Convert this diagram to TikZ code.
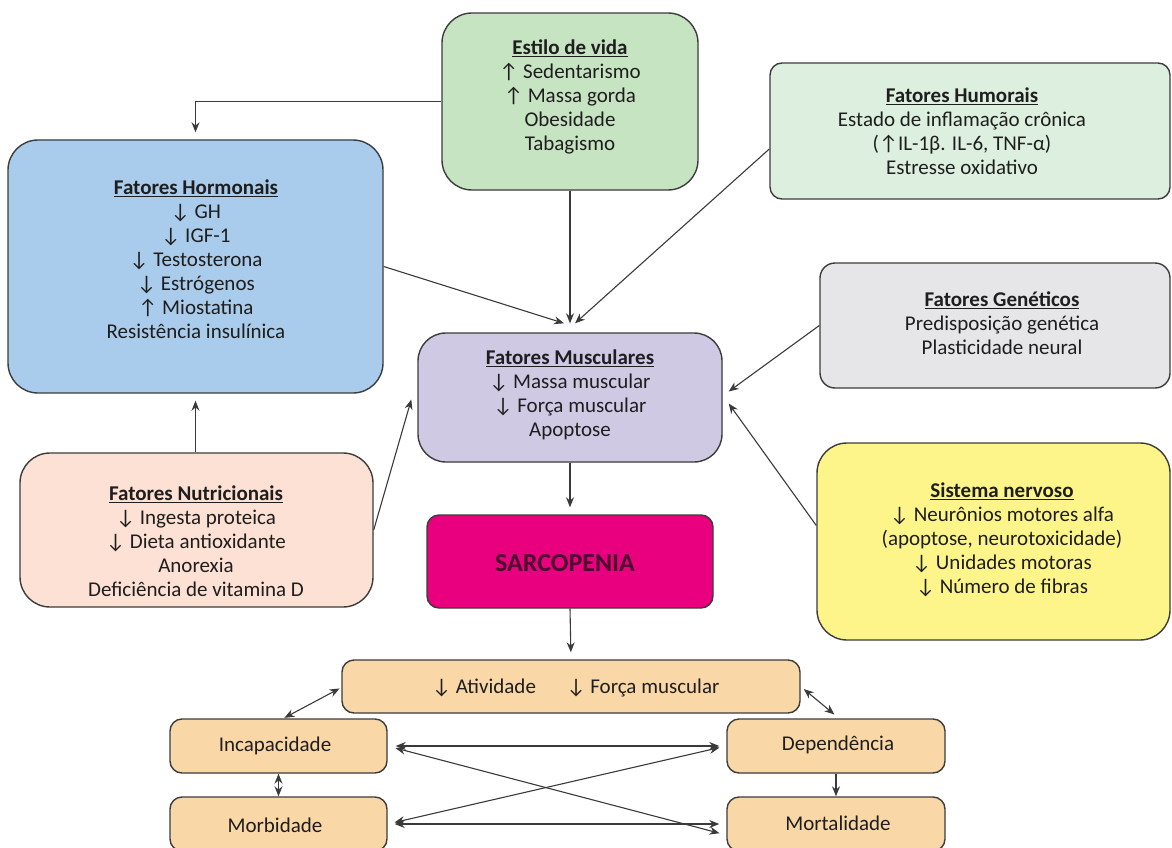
\documentclass[tikz,border=0pt]{standalone}
\usepackage{fontspec}
\setmainfont{Carlito}
\usetikzlibrary{arrows.meta}
\definecolor{bordc}{HTML}{3C3C3C}
\definecolor{linec}{HTML}{3A3A3A}
\definecolor{txtc}{HTML}{1E1E1E}
\definecolor{cest}{HTML}{C7E4C2}
\definecolor{chum}{HTML}{DDF0DF}
\definecolor{chor}{HTML}{AACCEC}
\definecolor{cgen}{HTML}{E6E6E8}
\definecolor{cmus}{HTML}{D0C9E4}
\definecolor{cnut}{HTML}{FCE1D4}
\definecolor{csar}{HTML}{E8007F}
\definecolor{csartx}{HTML}{4B0A2E}
\definecolor{csn}{HTML}{FDF58A}
\definecolor{cbot}{HTML}{FAD7A6}
\newcommand{\dn}{↓}
\newcommand{\up}{↑}
\newcommand{\ttl}[1]{\underline{\textbf{#1}}}
\begin{document}
\begin{tikzpicture}[x=1pt,y=-1pt,
  box/.style={draw=bordc, line width=1.4pt, inner sep=0pt},
  txt/.style={align=center, font=\fontsize{21}{24}\selectfont, text=txtc, inner sep=0pt},
  conn/.style={draw=linec, line width=1.1pt, -{Stealth[length=10pt,width=8pt]}},
  dconn/.style={draw=linec, line width=1.1pt, {Stealth[length=10pt,width=8pt]}-{Stealth[length=10pt,width=8pt]}},
]
\useasboundingbox (0,0) rectangle (1172,848);
\fill[white] (0,0) rectangle (1172,848);

% boxes
\node[box, fill=cest, rounded corners=30pt, minimum width=256pt, minimum height=177pt] (estilo) at (570,101.5) {};
\node[box, fill=chum, rounded corners=12pt, minimum width=400pt, minimum height=136pt] (hum) at (970,131) {};
\node[box, fill=chor, rounded corners=30pt, minimum width=375pt, minimum height=253pt] (horm) at (195.5,266.5) {};
\node[box, fill=cgen, rounded corners=15pt, minimum width=350pt, minimum height=125pt] (gen) at (995,325.5) {};
\node[box, fill=cmus, rounded corners=28pt, minimum width=304pt, minimum height=129pt] (musc) at (570,397.5) {};
\node[box, fill=cnut, rounded corners=30pt, minimum width=353pt, minimum height=154pt] (nut) at (196.5,530) {};
\node[box, fill=csar, rounded corners=12pt, minimum width=286pt, minimum height=93pt] (sarc) at (570,561.5) {};
\node[box, fill=csn, rounded corners=30pt, minimum width=353pt, minimum height=197pt] (sn) at (993.5,541.5) {};
\node[box, fill=cbot, rounded corners=12pt, minimum width=458pt, minimum height=53pt] (ativ) at (571,686.5) {};
\node[box, fill=cbot, rounded corners=12pt, minimum width=217pt, minimum height=54pt] (incap) at (278.5,746) {};
\node[box, fill=cbot, rounded corners=12pt, minimum width=218pt, minimum height=54pt] (dep) at (836,746) {};
\node[box, fill=cbot, rounded corners=12pt, minimum width=217pt, minimum height=54pt] (morb) at (278.5,824) {};
\node[box, fill=cbot, rounded corners=12pt, minimum width=218pt, minimum height=54pt] (mort) at (836,824) {};

% texts
\node[txt] (testilo) at (570,97) {\ttl{Estilo de vida}\\\up\ Sedentarismo\\\up\ Massa gorda\\Obesidade\\Tabagismo};
\node[txt] (thum) at (962,131) {\ttl{Fatores Humorais}\\Estado de inflamação crônica\\(\up IL-1β. IL-6, TNF-α)\\Estresse oxidativo};
\node[txt] (thorm) at (196,259) {\ttl{Fatores Hormonais}\\\dn\ GH\\\dn\ IGF-1\\\dn\ Testosterona\\\dn\ Estrógenos\\\up\ Miostatina\\Resistência insulínica};
\node[txt] (tgen) at (1002,323) {\ttl{Fatores Genéticos}\\Predisposição genética\\Plasticidade neural};
\node[txt] (tmusc) at (570,395) {\ttl{Fatores Musculares}\\\dn\ Massa muscular\\\dn\ Força muscular\\Apoptose};
\node[txt] (tnut) at (196,541) {\ttl{Fatores Nutricionais}\\\dn\ Ingesta proteica\\\dn\ Dieta antioxidante\\Anorexia\\Deficiência de vitamina D};
\node[txt, font=\fontsize{26}{28}\bfseries, text=csartx] (tsarc) at (565,563) {SARCOPENIA};
\node[txt] (tsn) at (1002,540) {\ttl{Sistema nervoso}\\\dn\ Neurônios motores alfa\\(apoptose, neurotoxicidade)\\\dn\ Unidades motoras\\\dn\ Número de fibras};
\node[txt] (tativ1) at (484,688) {\dn\ Atividade};
\node[txt] (tativ2) at (643,688) {\dn\ Força muscular};
\node[txt] (tincap) at (275,746) {Incapacidade};
\node[txt] (tdep) at (838,745) {Dependência};
\node[txt] (tmorb) at (275,825) {Morbidade};
\node[txt] (tmort) at (838,823) {Mortalidade};

% connectors
\draw[conn, shorten >=7pt] (estilo.west) -| (horm.north);
\draw[conn] (estilo.south) -- ([yshift=9pt]musc.north);
\draw[conn] (horm.east) -- ([xshift=-6pt,yshift=9pt]musc.north);
\draw[conn] ([yshift=-18pt]hum.west) -- ([xshift=5pt,yshift=9pt]musc.north);
\draw[conn] (gen.west) -- ([xshift=6pt,yshift=6pt]musc.east);
\draw[conn] ([yshift=16pt]sn.west) -- ([xshift=6pt,yshift=-6pt]musc.east);
\draw[conn, shorten >=7pt] (nut.north -| horm.south) -- (horm.south);
\draw[conn] (nut.east) -- ([xshift=-6pt,yshift=-2pt]musc.west);
\draw[conn, shorten >=7pt] (musc.south) -- (sarc.north);
\draw[conn, shorten >=7pt] (sarc.south) -- (ativ.north);
\draw[dconn, shorten <=2pt, shorten >=1pt] ([yshift=-1pt]ativ.west) -- ([xshift=5pt]incap.north);
\draw[dconn, shorten <=4pt, shorten >=6pt] (ativ.east) -- ([xshift=3pt]dep.north);
\draw[dconn] (incap.south) -- (morb.north);
\draw[conn] (dep.south) -- (mort.north);
\draw[dconn, shorten <=8pt, shorten >=7pt] (incap.east) -- (dep.west);
\draw[dconn, shorten <=7pt, shorten >=7pt] (morb.east) -- (mort.west);
\draw[dconn, shorten <=8pt, shorten >=7pt] (incap.east) -- ([yshift=-11pt]mort.west);
\draw[dconn, shorten <=7pt, shorten >=7pt] (morb.east) -- (dep.west);
\end{tikzpicture}
\end{document}
